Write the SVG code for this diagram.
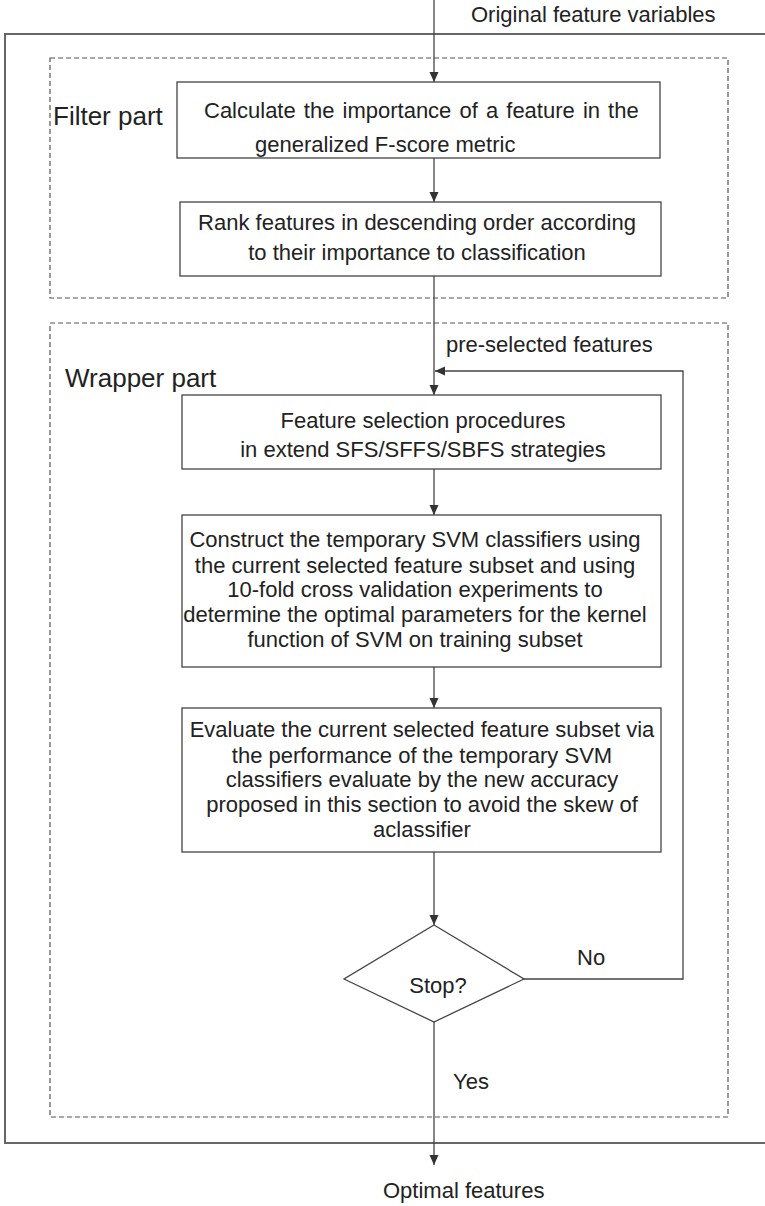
<svg xmlns="http://www.w3.org/2000/svg" width="765" height="1206" viewBox="0 0 765 1206">
  <style>
    text { font-family: "Liberation Sans", Arial, sans-serif; fill: #222; }
    .t { font-size: 22px; }
    .part { font-size: 26px; }
    .mid { text-anchor: middle; }
    .box { fill: #fff; stroke: #444; stroke-width: 1.3; }
    .dash { fill: none; stroke: #555; stroke-width: 1.2; stroke-dasharray: 5 3; }
    .frame { fill: none; stroke: #666; stroke-width: 2; }
    .edge { fill: none; stroke: #444; stroke-width: 1.3; }
  </style>
  <defs>
    <marker id="arrow" viewBox="0 0 10 10" refX="10" refY="5" markerWidth="10" markerHeight="10" markerUnits="userSpaceOnUse" orient="auto">
      <path d="M0,0.5 L10,5 L0,9.5 Z" fill="#333"/>
    </marker>
  </defs>

  <!-- outer frame, open on the right -->
  <path class="frame" d="M767,34 H5 V1143 H767"/>

  <!-- filter and wrapper regions -->
  <g id="filter-region">
    <rect class="dash" x="50" y="58" width="678" height="240"/>
    <text class="part" x="53" y="125">Filter part</text>
  </g>
  <g id="wrapper-region">
    <rect class="dash" x="50" y="323" width="678" height="794"/>
    <text class="part" x="65" y="387">Wrapper part</text>
  </g>

  <!-- connectors -->
  <g id="connectors">
    <path class="edge" d="M434,0 V82" marker-end="url(#arrow)"/>
    <path class="edge" d="M434,158 V202" marker-end="url(#arrow)"/>
    <path class="edge" d="M434,276 V395" marker-end="url(#arrow)"/>
    <path class="edge" d="M434,469 V515" marker-end="url(#arrow)"/>
    <path class="edge" d="M434,667 V708" marker-end="url(#arrow)"/>
    <path class="edge" d="M434,852 V925" marker-end="url(#arrow)"/>
    <path class="edge" d="M434,1022 V1165" marker-end="url(#arrow)"/>
    <path class="edge" d="M524,979 H683 V371 H435" marker-end="url(#arrow)"/>
    <text class="t" x="471" y="22">Original feature variables</text>
    <text class="t" x="446" y="352">pre-selected features</text>
    <text class="t" x="577" y="965">No</text>
    <text class="t" x="453" y="1089">Yes</text>
    <text class="t" x="383" y="1198">Optimal features</text>
  </g>

  <g id="fscore">
    <rect class="box" x="177" y="82" width="483" height="76"/>
    <text class="t" x="204" y="118" word-spacing="2">Calculate the importance of a feature in the</text>
    <text class="t" x="255" y="152">generalized F-score metric</text>
  </g>

  <g id="rank">
    <rect class="box" x="180" y="202" width="481" height="74"/>
    <text class="t mid" x="417" y="230">Rank features in descending order according</text>
    <text class="t mid" x="417" y="260">to their importance to classification</text>
  </g>

  <g id="selection">
    <rect class="box" x="182" y="395" width="479" height="74"/>
    <text class="t mid" x="423" y="428">Feature selection procedures</text>
    <text class="t mid" x="423" y="457">in extend SFS/SFFS/SBFS strategies</text>
  </g>

  <g id="construct">
    <rect class="box" x="182" y="515" width="479" height="152"/>
    <text class="t mid" x="415" y="547">Construct the temporary SVM classifiers using</text>
    <text class="t mid" x="415" y="573">the current selected feature subset and using</text>
    <text class="t mid" x="415" y="597">10-fold cross validation experiments to</text>
    <text class="t mid" x="415" y="622">determine the optimal parameters for the kernel</text>
    <text class="t mid" x="415" y="647">function of SVM on training subset</text>
  </g>

  <g id="evaluate">
    <rect class="box" x="182" y="708" width="479" height="144"/>
    <text class="t mid" x="422" y="737">Evaluate the current selected feature subset via</text>
    <text class="t mid" x="422" y="763">the performance of the temporary SVM</text>
    <text class="t mid" x="422" y="787">classifiers evaluate by the new accuracy</text>
    <text class="t mid" x="422" y="812">proposed in this section to avoid the skew of</text>
    <text class="t mid" x="422" y="837">aclassifier</text>
  </g>

  <g id="stop">
    <path class="box" d="M434,925 L524,979 L434,1022 L344,979 Z"/>
    <text class="t mid" x="438" y="993">Stop?</text>
  </g>
</svg>
